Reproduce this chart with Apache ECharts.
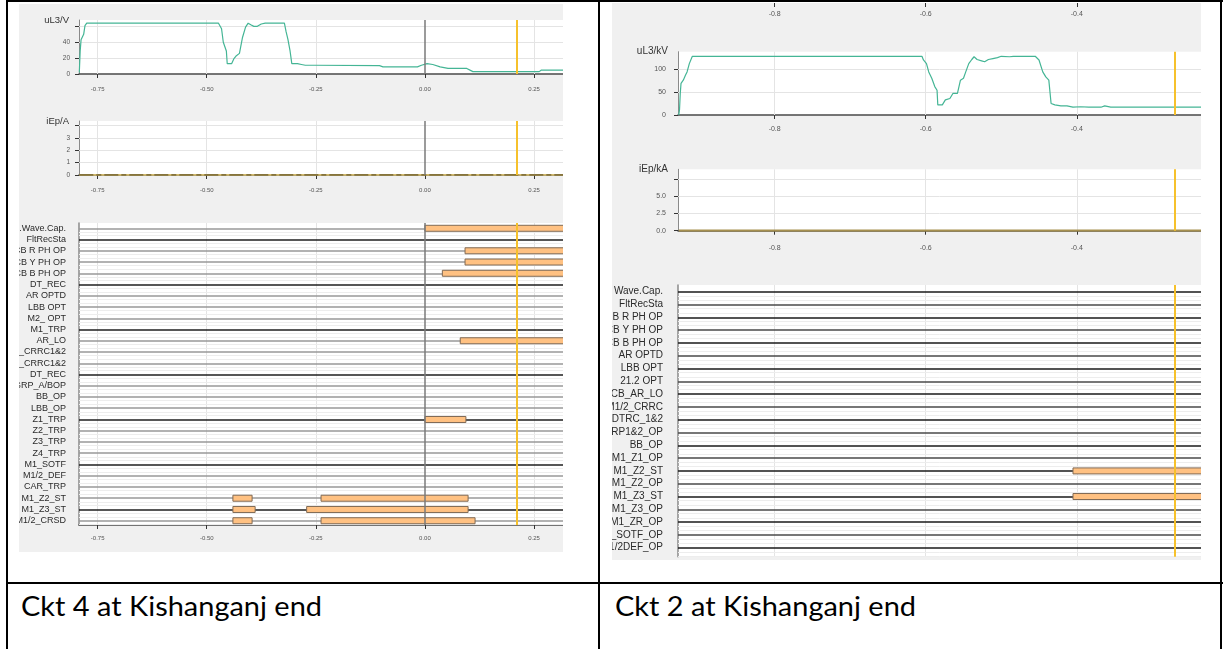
<!DOCTYPE html>
<html>
<head>
<meta charset="utf-8">
<script src="https://cdn.jsdelivr.net/npm/echarts@6/dist/echarts.min.js"></script>
<style>
  html, body { margin: 0; padding: 0; background: #fff; }
  #page { position: relative; width: 1223px; height: 649px; overflow: hidden; background: #fff; }
  .rule { position: absolute; background: #000; }
  .cap { position: absolute; font-family: Lato, "Open Sans", sans-serif; font-size: 26px; line-height: 26px;
         color: #000; white-space: nowrap; transform-origin: 0 0; }
  .scope { position: absolute; background: #f0f0f0; }
  #ckt4 { left: 19px; top: 4px; width: 544px; height: 548px; }
  #ckt2 { left: 612px; top: 3px; width: 589px; height: 557px; }
</style>
</head>
<body>
<div id="page">
  <div class="rule" style="left:6px;top:0;width:1217px;height:2px"></div>
  <div class="rule" style="left:6px;top:0;width:2px;height:649px"></div>
  <div class="rule" style="left:598px;top:0;width:2px;height:649px"></div>
  <div class="rule" style="left:1220px;top:0;width:2px;height:649px"></div>
  <div class="rule" style="left:6px;top:582px;width:1217px;height:2px"></div>
  <div class="scope" id="ckt4"></div>
  <div class="scope" id="ckt2"></div>
  <div class="cap" id="cap4" style="left:21px;top:593px">Ckt 4 at Kishanganj end</div>
  <div class="cap" id="cap2" style="left:615px;top:593px">Ckt 2 at Kishanganj end</div>
</div>
<script>
// ---------- Ckt 4 record ----------
const ckt4Time = [-0.792, -0.790, -0.788, -0.785, -0.782, -0.779, -0.775, -0.473, -0.466, -0.462, -0.455, -0.453,
  -0.443, -0.438, -0.432, -0.425, -0.418, -0.411, -0.405, -0.399, -0.392, -0.384, -0.375, -0.366, -0.322, -0.318,
  -0.314, -0.309, -0.305, -0.292, -0.283, -0.274, -0.253, -0.104, -0.096, -0.017, -0.008, 0.005, 0.018, 0.035,
  0.053, 0.096, 0.110, 0.131, 0.262, 0.267, 0.3165];
const ckt4UL3 = [2, 29, 43, 44, 50, 61, 64, 64, 57, 40, 29, 13,
  13, 19, 23, 26, 46, 59, 64, 62, 60, 60, 63, 64, 64, 53,
  44, 29, 13, 13, 12, 11, 11, 10.5, 9, 9, 11, 13, 12, 9,
  7, 7, 3, 3, 3, 5, 5];
const ckt4IEpTime = [-0.792, 0.3165];
const ckt4IEp = [0, 0];
const ckt4Channels = ['DR.Wave.Cap.', 'FltRecSta', 'CB R PH OP', 'CB Y PH OP', 'CB B PH OP', 'DT_REC', 'AR OPTD',
  'LBB OPT', 'M2_ OPT', 'M1_TRP', 'AR_LO', 'M1_CRRC1&2', 'M2_CRRC1&2', 'DT_REC', 'GRP_A/BOP', 'BB_OP', 'LBB_OP',
  'Z1_TRP', 'Z2_TRP', 'Z3_TRP', 'Z4_TRP', 'M1_SOTF', 'M1/2_DEF', 'CAR_TRP', 'M1_Z2_ST', 'M1_Z3_ST', 'M1/2_CRSD'];
// [channel index, pick-up time, drop-off time]
const ckt4Events = [[0, 0.000, 0.33], [2, 0.092, 0.33], [3, 0.092, 0.33], [4, 0.040, 0.33], [10, 0.081, 0.33],
  [17, 0.000, 0.094], [24, -0.440, -0.396], [24, -0.238, 0.099], [25, -0.440, -0.389], [25, -0.271, 0.099],
  [26, -0.440, -0.396], [26, -0.238, 0.115]];
const ckt4TimeTicks = [-0.75, -0.5, -0.25, 0, 0.25];
const ckt4Cursor = 0.207;

// ---------- Ckt 2 record ----------
const ckt2Time = [-0.927, -0.926, -0.925, -0.924, -0.921, -0.918, -0.916, -0.913, -0.909, -0.605, -0.603, -0.599,
  -0.596, -0.592, -0.588, -0.585, -0.584, -0.578, -0.574, -0.568, -0.564, -0.558, -0.554, -0.550, -0.547, -0.543,
  -0.539, -0.536, -0.532, -0.526, -0.522, -0.517, -0.511, -0.505, -0.500, -0.489, -0.484, -0.455, -0.450, -0.445,
  -0.441, -0.437, -0.434, -0.429, -0.421, -0.413, -0.405, -0.395, -0.384, -0.368, -0.363, -0.355, -0.2355];
const ckt2UL3 = [0, 11, 47, 69, 76, 87, 94, 112, 128, 128, 120, 112,
  94, 80, 62, 54, 22, 22, 33, 36, 47, 47, 76, 80, 94, 112,
  121, 127, 121, 118, 116, 121, 123, 125, 128, 127, 128, 128, 120, 94,
  83, 76, 25, 22, 20, 20, 17, 18, 17, 17, 20, 17, 17];
const ckt2IEpTime = [-0.927, -0.2355];
const ckt2IEp = [0, 0];
const ckt2Channels = ['Wave.Cap.', 'FltRecSta', 'CB R PH OP', 'CB Y PH OP', 'CB B PH OP', 'AR OPTD', 'LBB OPT',
  '21.2 OPT', 'CB_AR_LO', 'M1/2_CRRC', 'DTRC_1&2', 'GRP1&2_OP', 'BB_OP', 'M1_Z1_OP', 'M1_Z2_ST', 'M1_Z2_OP',
  'M1_Z3_ST', 'M1_Z3_OP', 'M1_ZR_OP', 'M1_SOTF_OP', 'M1/2DEF_OP'];
const ckt2Events = [[14, -0.405, -0.23], [16, -0.405, -0.23]];
const ckt2TimeTicks = [-0.8, -0.6, -0.4];
const ckt2Cursor = -0.2696;

// ---------- shared drawing helpers ----------
const FONT = '"Liberation Sans", Arial, sans-serif';
const GRID_COLOR = '#e4e4e4';
const TRIGGER_COLOR = '#7a7a7a';
const CURSOR_COLOR = '#f6c12c';
const WAVE_COLOR = '#44b595';

function zip(xs, ys) { return xs.map((x, i) => [x, ys[i]]); }

function timeAxis(gi, min, max, ticks, digits, fontSize, margin, showLine) {
  return {
    type: 'value', gridIndex: gi, min, max,
    axisLine: { show: showLine !== false, onZero: false, lineStyle: { color: '#4a4a4a', width: 1.5 } },
    axisTick: { show: true, length: 4, customValues: ticks, lineStyle: { color: '#333' } },
    axisLabel: { show: true, customValues: ticks, formatter: v => v.toFixed(digits), margin,
                 fontSize, color: '#555', fontFamily: FONT },
    splitLine: { show: false }
  };
}

function levelAxis(gi, min, max, labels, ticks, digits, name, nameSize, labelSize, margin) {
  return {
    type: 'value', gridIndex: gi, min, max,
    name, nameLocation: 'end', nameGap: 0,
    nameTextStyle: { align: 'right', verticalAlign: 'middle', padding: [0, 10, 0, 0],
                     fontSize: nameSize, color: '#333', fontFamily: FONT },
    axisLine: { show: true, onZero: false, lineStyle: { color: '#8a8a8a', width: 1 } },
    axisTick: { show: true, length: 4, customValues: ticks, lineStyle: { color: '#333' } },
    axisLabel: { show: true, customValues: labels, formatter: v => v.toFixed(digits), margin,
                 fontSize: labelSize, color: '#555', fontFamily: FONT },
    splitLine: { show: false }
  };
}

function channelAxis(gi, names, fontSize, margin, bottomPad, topPad) {
  const n = names.length;
  return {
    type: 'value', gridIndex: gi, min: -bottomPad, max: n - 1 + topPad,
    axisLine: { show: true, onZero: false, lineStyle: { color: '#8a8a8a', width: 1.5 } },
    axisTick: { show: false },
    axisLabel: { show: true, customValues: names.map((_, i) => n - 1 - i), margin,
                 formatter: v => names[n - 1 - Math.round(v)], fontSize, color: '#2a2a2a', fontFamily: FONT },
    splitLine: { show: false }
  };
}

function markLines(data, z) {
  return { silent: true, symbol: ['none', 'none'], label: { show: false }, animation: false,
           emphasis: { disabled: true }, z,
           lineStyle: { color: GRID_COLOR, width: 1, type: 'solid' }, data };
}

// light grid of a panel: vertical lines at time ticks, horizontal at level ticks
function guideSeries(gi, xs, ys) {
  return {
    type: 'line', xAxisIndex: gi, yAxisIndex: gi, data: [], silent: true, z: 1,
    markLine: markLines(xs.map(x => ({ xAxis: x })).concat(ys.map(y => ({ yAxis: y }))), 1)
  };
}

function cursorSeries(gi, trigger, cursor) {
  const d = [];
  if (trigger !== null) d.push({ xAxis: trigger, lineStyle: { color: TRIGGER_COLOR, width: 1.5, type: 'solid' } });
  d.push({ xAxis: cursor, lineStyle: { color: CURSOR_COLOR, width: 2, type: 'solid' } });
  return { type: 'line', xAxisIndex: gi, yAxisIndex: gi, data: [], silent: true, z: 6, markLine: markLines(d, 6) };
}

// one horizontal trace per binary channel
function channelLines(gi, names, darkTest, darkColor, lightColor) {
  const n = names.length;
  const d = [];
  names.forEach((_, i) => {
    const v = n - 1 - i;
    d.push({ yAxis: v - 0.33, lineStyle: { color: '#ededed', width: 1, type: 'solid' } });
    d.push({ yAxis: v - 0.66, lineStyle: { color: '#ededed', width: 1, type: 'solid' } });
  });
  names.forEach((_, i) => {
    d.push({ yAxis: n - 1 - i, lineStyle: { color: darkTest(i) ? darkColor : lightColor, width: 1.6, type: 'solid' } });
  });
  return { type: 'line', xAxisIndex: gi, yAxisIndex: gi, data: [], silent: true, z: 2, markLine: markLines(d, 2) };
}

function eventBars(gi, events, n, h) {
  return {
    type: 'custom', xAxisIndex: gi, yAxisIndex: gi, clip: true, z: 4, silent: true,
    data: events, encode: { x: [1, 2], y: 0 },
    renderItem(params, api) {
      const v = n - 1 - api.value(0);
      const a = api.coord([api.value(1), v]);
      const b = api.coord([api.value(2), v]);
      return { type: 'rect', shape: { x: a[0], y: a[1] - h / 2, width: b[0] - a[0], height: h },
               style: { fill: '#ffc182', stroke: '#806a55', lineWidth: 1 } };
    }
  };
}

function traceSeries(gi, data, color, width, z, dash) {
  return { type: 'line', xAxisIndex: gi, yAxisIndex: gi, data, showSymbol: false, silent: true, z,
           lineStyle: { color, width, type: dash || 'solid' } };
}

function plot(box) {
  return Object.assign({ show: true, backgroundColor: '#fff', borderWidth: 0,
                         containLabel: false, outerBoundsMode: 'none' }, box);
}

// ---------- Ckt 4 recorder view ----------
const t4min = -0.7927, t4max = 0.3165;
const opt4 = {
  animation: false,
  backgroundColor: '#f0f0f0',
  grid: [
    plot({ left: 60, right: 0, top: 16, height: 54 }),
    plot({ left: 60, right: 0, top: 117, height: 54 }),
    plot({ left: 60, right: 0, top: 219, height: 302 })
  ],
  xAxis: [
    timeAxis(0, t4min, t4max, ckt4TimeTicks, 2, 6, 12),
    timeAxis(1, t4min, t4max, ckt4TimeTicks, 2, 6, 12),
    timeAxis(2, t4min, t4max, ckt4TimeTicks, 2, 6, 10)
  ],
  yAxis: [
    levelAxis(0, 0, 68, [0, 20, 40], [0, 20, 40, 60], 0, 'uL3/V', 9.5, 6.5, 9),
    levelAxis(1, 0, 4.35, [0, 1, 2, 3], [0, 1, 2, 3, 4], 0, 'iEp/A', 9.5, 6.5, 9),
    channelAxis(2, ckt4Channels, 9, 13, 0.38, 0.47)
  ],
  series: [
    guideSeries(0, [-0.75, -0.5, -0.25, 0.25], [20, 40, 60]),
    guideSeries(1, [-0.75, -0.5, -0.25, 0.25], [1, 2, 3, 4]),
    guideSeries(2, [-0.75, -0.5, -0.25, 0.25], []),
    traceSeries(0, zip(ckt4Time, ckt4UL3), WAVE_COLOR, 1.2, 3),
    traceSeries(1, zip(ckt4IEpTime, ckt4IEp), '#f3d36a', 1.5, 3),
    traceSeries(1, zip(ckt4IEpTime, ckt4IEp), '#6d5d2c', 1.5, 3, [14, 3, 5, 3]),
    channelLines(2, ckt4Channels, i => i % 4 === 1, '#1e1e1e', '#999999'),
    eventBars(2, ckt4Events, ckt4Channels.length, 6),
    cursorSeries(0, 0, ckt4Cursor),
    cursorSeries(1, 0, ckt4Cursor),
    cursorSeries(2, 0, ckt4Cursor)
  ]
};

// ---------- Ckt 2 recorder view ----------
const t2min = -0.928, t2max = -0.2355;
const opt2 = {
  animation: false,
  backgroundColor: '#f0f0f0',
  grid: [
    plot({ left: 66, right: 0, top: -30, height: 30, show: false }),
    plot({ left: 66, right: 0, top: 48.7, height: 63.3 }),
    plot({ left: 66, right: 0, top: 166.3, height: 61.4 }),
    plot({ left: 66, right: 0, top: 282, height: 271.7 })
  ],
  xAxis: [
    timeAxis(0, t2min, t2max, ckt2TimeTicks, 1, 7, 8, false),
    timeAxis(1, t2min, t2max, ckt2TimeTicks, 1, 7, 11),
    timeAxis(2, t2min, t2max, ckt2TimeTicks, 1, 7, 14),
    Object.assign(timeAxis(3, t2min, t2max, ckt2TimeTicks, 1, 7, 10, false),
                  { axisTick: { show: false }, axisLabel: { show: false } })
  ],
  yAxis: [
    { type: 'value', gridIndex: 0, show: false },
    levelAxis(1, 0, 138, [0, 50, 100], [0, 50, 100], 0, 'uL3/kV', 10, 7, 12),
    levelAxis(2, 0, 8.87, [0, 2.5, 5], [0, 2.5, 5, 7.5], 1, 'iEp/kA', 10, 7, 12),
    channelAxis(3, ckt2Channels, 10, 15, 0.70, 0.52)
  ],
  series: [
    guideSeries(1, ckt2TimeTicks, [50, 100]),
    guideSeries(2, ckt2TimeTicks, [2.5, 5, 7.5]),
    guideSeries(3, ckt2TimeTicks, []),
    traceSeries(1, zip(ckt2Time, ckt2UL3), WAVE_COLOR, 1.2, 3),
    traceSeries(2, zip(ckt2IEpTime, ckt2IEp), '#a58f4f', 2.2, 3),
    channelLines(3, ckt2Channels, i => i % 2 === 0, '#1a1a1a', '#4a4a4a'),
    eventBars(3, ckt2Events, ckt2Channels.length, 6),
    cursorSeries(1, null, ckt2Cursor),
    cursorSeries(2, null, ckt2Cursor),
    cursorSeries(3, null, ckt2Cursor)
  ]
};

echarts.init(document.getElementById('ckt4'), null, { renderer: 'canvas' }).setOption(opt4);
echarts.init(document.getElementById('ckt2'), null, { renderer: 'canvas' }).setOption(opt2);

// captions: fit to the column text width
[['cap4', 301], ['cap2', 301]].forEach(([id, w]) => {
  const el = document.getElementById(id);
  const cur = el.getBoundingClientRect().width;
  el.style.transform = 'scaleX(' + (w / cur) + ')';
});
</script>
</body>
</html>
